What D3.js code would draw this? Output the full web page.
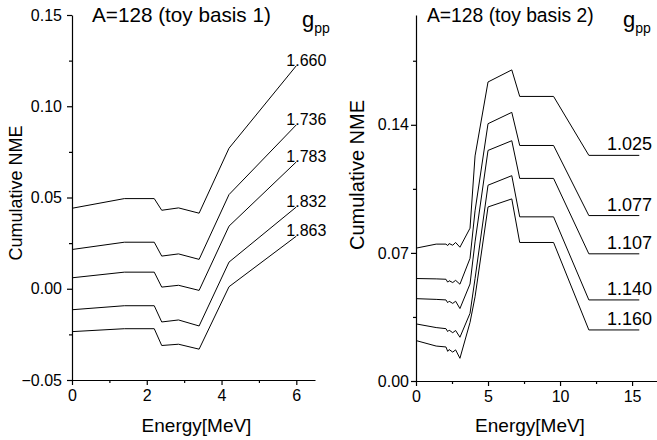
<!DOCTYPE html>
<html>
<head>
<meta charset="utf-8">
<script src="https://cdn.jsdelivr.net/npm/d3@7"></script>
<style>
  body { margin: 0; background: #fff; }
  svg { font-family: "Liberation Sans", Arial, sans-serif; }
  .curve { fill: none; stroke: #000; stroke-width: 1; }
  .axis path, .axis line { stroke: #000; stroke-width: 1.2; }
  .axis text { font-family: "Liberation Sans", Arial, sans-serif; fill: #000; }
</style>
</head>
<body>
<div class="chart"></div>
<script>
var w = 657,
  h = 440;

// panel 1 data (toy basis 1)
var energies1 = [0, 1.4, 2.2, 2.4, 2.85, 3.4, 4.2, 6.0];
var gpp1 = ['1.660', '1.736', '1.783', '1.832', '1.863'];
var nme1 = [
  [0.0441, 0.0494, 0.0494, 0.0430, 0.0443, 0.0414, 0.0770, 0.1222],
  [0.0215, 0.0255, 0.0255, 0.0179, 0.0191, 0.0161, 0.0516, 0.0898],
  [0.0060, 0.0091, 0.0091, 0.0009, 0.0019, -0.0009, 0.0343, 0.0695],
  [-0.0115, -0.0093, -0.0093, -0.0182, -0.0171, -0.0204, 0.0146, 0.0448],
  [-0.0235, -0.0219, -0.0219, -0.0311, -0.0304, -0.0331, 0.0011, 0.0288]
];
var yTicks1 = [-0.05, 0.00, 0.05, 0.10, 0.15];
var xTicks1 = [0, 2, 4, 6];

// panel 2 data (toy basis 2)
var energies2 = [0, 1.4, 2.08, 2.2, 2.3, 2.55, 2.75, 3.05, 3.75, 4.1, 5.0, 6.65, 7.2, 9.55, 12.0, 15.5];
var gpp2 = ['1.025', '1.077', '1.107', '1.140', '1.160'];
var nme2 = [
  [0.0726, 0.0748, 0.0748, 0.0740, 0.0751, 0.0742, 0.0757, 0.0731, 0.0835, 0.1230, 0.1634, 0.1700, 0.1555, 0.1555, 0.1233, 0.1233],
  [0.0560, 0.0558, 0.0556, 0.0540, 0.0548, 0.0538, 0.0550, 0.0529, 0.0670, 0.0930, 0.1406, 0.1468, 0.1287, 0.1287, 0.0904, 0.0904],
  [0.0450, 0.0446, 0.0443, 0.0428, 0.0436, 0.0424, 0.0436, 0.0396, 0.0530, 0.0760, 0.1260, 0.1313, 0.1107, 0.1107, 0.0695, 0.0695],
  [0.0312, 0.0292, 0.0286, 0.0270, 0.0278, 0.0264, 0.0276, 0.0239, 0.0370, 0.0560, 0.1070, 0.1122, 0.0897, 0.0897, 0.0443, 0.0443],
  [0.0221, 0.0191, 0.0186, 0.0162, 0.0172, 0.0158, 0.0170, 0.0124, 0.0320, 0.0460, 0.0951, 0.0995, 0.0757, 0.0757, 0.0279, 0.0279]
];
var yTicks2 = [0.00, 0.07, 0.14];
var xTicks2 = [0, 5, 10, 15];

var svg = d3.select('.chart')
  .append('svg')
  .attr('width', w)
  .attr('height', h);

// scales
var x1 = d3.scaleLinear().domain([0, 6.5]).range([72, 315]);
var y1 = d3.scaleLinear().domain([-0.05, 0.15]).range([380, 15]);
var x2 = d3.scaleLinear().domain([0, 16.8]).range([416, 658]);
var y2 = d3.scaleLinear().domain([0, 0.2]).range([381, 15]);

function drawPanel(opt) {
  var g = svg.append('g');

  // minor ticks first (no labels)
  g.append('g')
    .attr('class', 'axis')
    .attr('transform', 'translate(0,' + opt.y.range()[0] + ')')
    .call(d3.axisBottom(opt.x).tickValues(opt.xMinor).tickSize(3).tickFormat(''))
    .select('.domain').remove();
  g.append('g')
    .attr('class', 'axis')
    .attr('transform', 'translate(' + opt.x.range()[0] + ',0)')
    .call(d3.axisLeft(opt.y).tickValues(opt.yMinor).tickSize(3).tickFormat(''))
    .select('.domain').remove();

  // major axes
  var xa = g.append('g')
    .attr('class', 'axis')
    .attr('transform', 'translate(0,' + opt.y.range()[0] + ')')
    .call(d3.axisBottom(opt.x).tickValues(opt.xTicks).tickSize(5).tickSizeOuter(0).tickPadding(5).tickFormat(d3.format('d')));
  xa.selectAll('text').attr('font-size', opt.tickFont);

  var ya = g.append('g')
    .attr('class', 'axis')
    .attr('transform', 'translate(' + opt.x.range()[0] + ',0)')
    .call(d3.axisLeft(opt.y).tickValues(opt.yTicks).tickSize(5).tickSizeOuter(0).tickPadding(opt.yPad).tickFormat(d3.format('.2f')));
  ya.selectAll('text').attr('font-size', opt.tickFont);

  // curves
  var line = d3.line()
    .x(function (d, i) { return opt.x(opt.energies[i]); })
    .y(function (d) { return opt.y(d); });

  g.selectAll('path.curve')
    .data(opt.nme)
    .enter()
    .append('path')
    .attr('class', 'curve')
    .attr('d', line);

  // curve labels
  g.selectAll('text.gpp')
    .data(opt.nme)
    .enter()
    .append('text')
    .attr('class', 'gpp')
    .attr('x', opt.labelX)
    .attr('y', function (d) { return opt.y(d[d.length - 1]) + opt.labelDy; })
    .attr('text-anchor', opt.labelAnchor)
    .attr('font-size', opt.labelFont)
    .text(function (d, i) { return opt.gpp[i]; });

  // title
  g.append('text')
    .attr('x', opt.titleX)
    .attr('y', 22)
    .attr('font-size', opt.titleFont)
    .text(opt.title);

  // g_pp header
  var gt = g.append('text')
    .attr('x', opt.gX)
    .attr('y', 27)
    .attr('font-size', 22);
  gt.append('tspan').text('g');
  gt.append('tspan')
    .attr('dy', 6)
    .attr('font-size', 14)
    .text('pp');

  // axis titles
  g.append('text')
    .attr('x', d3.mean(opt.x.range()) + opt.xTitleShift)
    .attr('y', 432)
    .attr('text-anchor', 'middle')
    .attr('font-size', 19)
    .text('Energy[MeV]');

  g.append('text')
    .attr('transform', 'translate(' + opt.yTitleX + ',' + opt.yTitleY + ') rotate(-90)')
    .attr('text-anchor', 'middle')
    .attr('font-size', opt.yTitleFont)
    .text('Cumulative NME');
}

drawPanel({
  x: x1, y: y1,
  energies: energies1, nme: nme1, gpp: gpp1,
  xTicks: xTicks1, yTicks: yTicks1,
  xMinor: [1, 3, 5], yMinor: [-0.025, 0.025, 0.075, 0.125],
  tickFont: 16, yPad: 5,
  labelX: x1(6) - 10, labelDy: 0, labelAnchor: 'start', labelFont: 16,
  title: 'A=128 (toy basis 1)', titleX: 92, titleFont: 20.7,
  gX: 302,
  xTitleShift: 3,
  yTitleX: 22, yTitleY: 193, yTitleFont: 18
});

drawPanel({
  x: x2, y: y2,
  energies: energies2, nme: nme2, gpp: gpp2,
  xTicks: xTicks2, yTicks: yTicks2,
  xMinor: [2.5, 7.5, 12.5], yMinor: [0.035, 0.105, 0.175],
  tickFont: 16, yPad: 2,
  labelX: 652, labelDy: -5, labelAnchor: 'end', labelFont: 18,
  title: 'A=128 (toy basis 2)', titleX: 427, titleFont: 19.3,
  gX: 623,
  xTitleShift: -7,
  yTitleX: 364, yTitleY: 175, yTitleFont: 20
});
</script>
</body>
</html>
